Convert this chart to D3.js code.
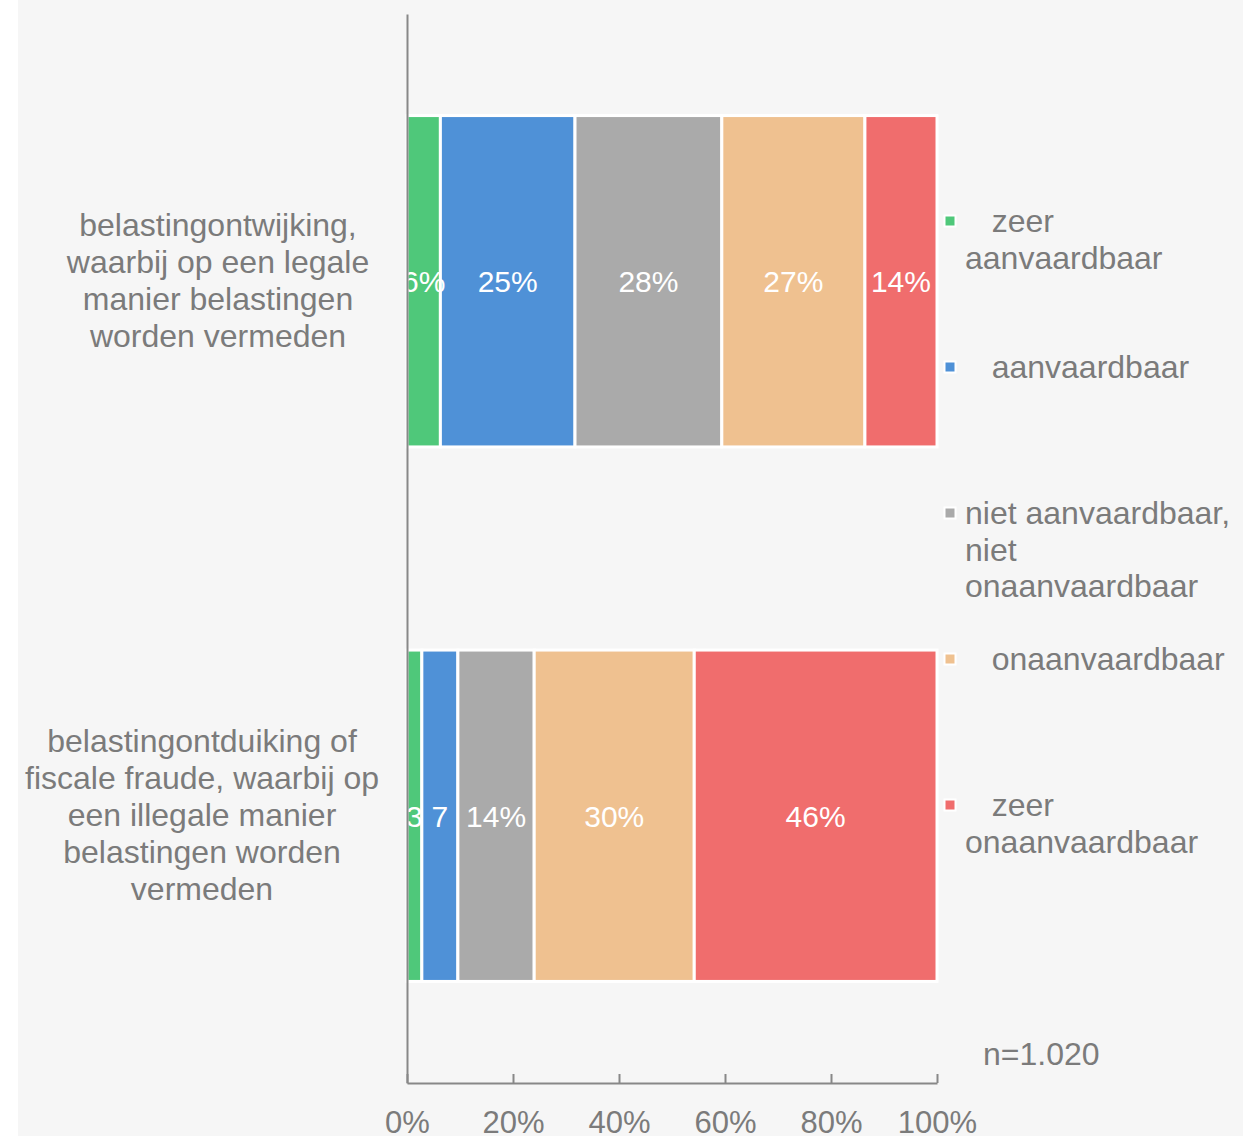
<!DOCTYPE html>
<html>
<head>
<meta charset="utf-8">
<script src="https://cdn.jsdelivr.net/npm/d3@7"></script>
<style>
  body { margin: 0; background: #ffffff; }
  text { font-family: "Liberation Sans", Arial, sans-serif; }
</style>
</head>
<body>
<div class="stackedBars"></div>
<script>
// data
const categories = [
  "belastingontwijking,\nwaarbij op een legale\nmanier belastingen\nworden vermeden",
  "belastingontduiking of\nfiscale fraude, waarbij op\neen illegale manier\nbelastingen worden\nvermeden"
]
const seriesNames = [
  "zeer aanvaardbaar",
  "aanvaardbaar",
  "niet aanvaardbaar, niet onaanvaardbaar",
  "onaanvaardbaar",
  "zeer onaanvaardbaar"
]
const legendLabels = [
  "\u00a0\u00a0\u00a0zeer\naanvaardbaar",
  "\u00a0\u00a0\u00a0aanvaardbaar",
  "niet aanvaardbaar,\nniet\nonaanvaardbaar",
  "\u00a0\u00a0\u00a0onaanvaardbaar",
  "\u00a0\u00a0\u00a0zeer\nonaanvaardbaar"
]
const avoidanceValues = [6.3, 25.4, 27.7, 27.0, 13.6]
const evasionValues = [2.8, 6.8, 14.4, 30.2, 45.8]
const avoidanceLabels = ["6%", "25%", "28%", "27%", "14%"]
const evasionLabels = ["3", "7", "14%", "30%", "46%"]
const xTicks = [0, 20, 40, 60, 80, 100]
const sampleNote = "n=1.020"

function stackedBars() {
  const width = 1256
  const height = 1136
  const textColor = "#7b7b7b"
  const color = d3.scaleOrdinal()
    .domain(seriesNames)
    .range(["#4fc87a", "#4f91d7", "#aaaaaa", "#efc190", "#f06d6d"])

  const rows = [avoidanceValues, evasionValues].map(function(vals, i) {
    const row = { cat: categories[i], labels: i === 0 ? avoidanceLabels : evasionLabels }
    seriesNames.forEach(function(s, j) { row[s] = vals[j] })
    return row
  })

  const x = d3.scaleLinear().domain([0, 100]).range([407, 937])
  const y = d3.scaleBand().domain(categories).range([14, 1083])
    .paddingInner(0.38).paddingOuter(0.19)

  const canvas = d3.select(".stackedBars").append("svg")
    .attr("width", width)
    .attr("height", height)

  canvas.append("rect")
    .attr("x", 18).attr("y", 0)
    .attr("width", 1225).attr("height", height)
    .attr("fill", "#f6f6f6")

  canvas.append("clipPath").attr("id", "plotClip")
    .append("rect")
    .attr("x", 408).attr("y", 0)
    .attr("width", 600).attr("height", height)

  const stack = d3.stack().keys(seriesNames)(rows)

  const layers = canvas.append("g").selectAll("g")
    .data(stack)
    .enter().append("g")
    .attr("fill", function(d) { return color(d.key) })

  layers.selectAll("rect")
    .data(function(d) { return d })
    .enter().append("rect")
    .attr("x", function(d) { return x(d[0]) })
    .attr("y", function(d) { return y(d.data.cat) })
    .attr("width", function(d) { return x(d[1]) - x(d[0]) })
    .attr("height", y.bandwidth())
    .attr("stroke", "#ffffff")
    .attr("stroke-width", 3)

  // value labels
  const labelGroup = canvas.append("g").attr("clip-path", "url(#plotClip)")
  stack.forEach(function(layer, j) {
    layer.forEach(function(d) {
      labelGroup.append("text")
        .attr("x", (x(d[0]) + x(d[1])) / 2)
        .attr("y", y(d.data.cat) + y.bandwidth() / 2 + 11)
        .attr("text-anchor", "middle")
        .style("font-size", "30px")
        .attr("fill", "#ffffff")
        .text(d.data.labels[j])
    })
  })

  // axes
  canvas.append("g")
    .attr("transform", "translate(407,0)")
    .call(d3.axisLeft(y).tickSize(0).tickFormat(""))
    .call(function(g) {
      g.select(".domain").attr("stroke", "#888888").attr("stroke-width", 2)
    })

  canvas.append("g")
    .attr("transform", "translate(0,1083)")
    .call(d3.axisBottom(x).tickValues(xTicks)
      .tickFormat(function(d) { return d + "%" })
      .tickSize(-9).tickSizeOuter(0).tickPadding(28))
    .call(function(g) {
      g.select(".domain").attr("stroke", "#888888").attr("stroke-width", 2)
      g.selectAll(".tick line").attr("stroke", "#888888").attr("stroke-width", 2)
      g.selectAll(".tick text")
        .attr("fill", textColor)
        .style("font-size", "31px")
        .style("font-family", "'Liberation Sans', Arial, sans-serif")
    })

  // category labels
  const catCenter = [218, 202]
  categories.forEach(function(c, i) {
    const lines = c.split("\n")
    const mid = y(c) + y.bandwidth() / 2
    const t = canvas.append("text")
      .attr("text-anchor", "middle")
      .style("font-size", "32px")
      .attr("fill", textColor)
    lines.forEach(function(line, k) {
      t.append("tspan")
        .attr("x", catCenter[i])
        .attr("y", mid + (k - (lines.length - 1) / 2) * 37 + 10.5)
        .text(line)
    })
  })

  // legend
  seriesNames.forEach(function(s, i) {
    const cy = 221 + i * 146
    canvas.append("rect")
      .attr("x", 944.5).attr("y", cy - 5.5)
      .attr("width", 11).attr("height", 11)
      .attr("fill", color(s))
      .attr("stroke", "#ffffff")
      .attr("stroke-width", 2)
    const t = canvas.append("text")
      .style("font-size", "32px")
      .attr("fill", textColor)
    legendLabels[i].split("\n").forEach(function(line, k) {
      t.append("tspan")
        .attr("x", 965)
        .attr("y", cy + 11 + k * 36.5)
        .text(line)
    })
  })

  canvas.append("text")
    .attr("x", 983).attr("y", 1065)
    .style("font-size", "32px")
    .attr("fill", textColor)
    .text(sampleNote)
}

stackedBars()
</script>
</body>
</html>
